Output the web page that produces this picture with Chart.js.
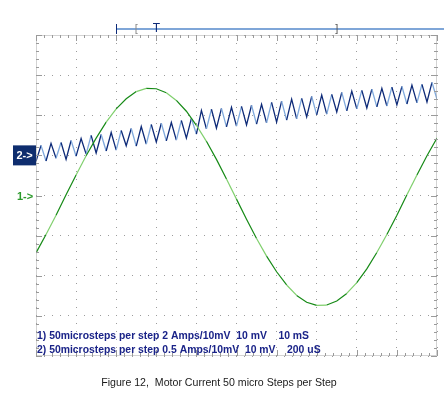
<!DOCTYPE html>
<html>
<head>
<meta charset="utf-8">
<script src="https://cdn.jsdelivr.net/npm/chart.js@4"></script>
<style>
  body { margin: 0; background: #fff; }
  #wrap { width: 444px; height: 396px; }
</style>
</head>
<body>
<div id="wrap"><canvas id="scope" width="444" height="396"></canvas></div>
<script>
// channel 1 (green), sampled every quarter division, values in divisions
const ch1Step = 0.25;
const ch1Values = [
  -1.43, -0.97, -0.49, 0.02, 0.51, 0.99, 1.43, 1.83, 2.16, 2.41,
  2.59, 2.67, 2.66, 2.56, 2.37, 2.10, 1.75, 1.35, 0.90, 0.41,
  -0.09, -0.59, -1.07, -1.51, -1.90, -2.23, -2.49, -2.66, -2.74, -2.73,
  -2.63, -2.44, -2.17, -1.83, -1.42, -0.97, -0.49, 0.02, 0.51, 0.99,
  1.43,
];

// channel 2 (blue), peaks and troughs every eighth of a division
const ch2Step = 0.125;
const ch2Values = [
  0.85, 1.25, 0.86, 1.30, 0.93, 1.32, 0.90, 1.37, 0.98, 1.42,
  1.03, 1.50, 1.06, 1.52, 1.11, 1.57, 1.13, 1.62, 1.24, 1.67,
  1.23, 1.72, 1.28, 1.77, 1.33, 1.80, 1.36, 1.82, 1.38, 1.87,
  1.43, 1.92, 1.53, 2.12, 1.66, 2.15, 1.68, 2.17, 1.71, 2.20,
  1.73, 2.22, 1.76, 2.25, 1.78, 2.27, 1.81, 2.32, 1.83, 2.35,
  1.88, 2.40, 1.91, 2.42, 1.96, 2.47, 2.01, 2.50, 2.03, 2.52,
  2.08, 2.57, 2.11, 2.60, 2.16, 2.62, 2.18, 2.65, 2.21, 2.67,
  2.23, 2.70, 2.26, 2.72, 2.28, 2.75, 2.31, 2.77, 2.33, 2.82,
  2.40,
];

// ground markers (divisions) and trigger marks (time, divisions)
const ch1Ground = 0;
const ch2Ground = 1;
const triggerStart = 2;
const triggerOpen = 2.5;
const triggerPoint = 3;
const triggerClose = 7.5;

const notes = [
  "1) 50microsteps per step 2 Amps/10mV  10 mV    10 mS",
  "2) 50microsteps per step 0.5 Amps/10mV  10 mV    200 uS",
];
const caption = "Figure 12,  Motor Current 50 micro Steps per Step";

const NAVY = "#0d2a78";
const LIGHT_BLUE = "#7ea8dc";
const GREEN = "#168a16";
const LIGHT_GREEN = "#7fcf6c";

const ch1Data = ch1Values.map((v, i) => ({ x: i * ch1Step, y: v }));
const ch2Data = ch2Values.map((v, i) => ({ x: i * ch2Step, y: v }));

function line(ctx, x1, y1, x2, y2) {
  ctx.beginPath();
  ctx.moveTo(x1, y1);
  ctx.lineTo(x2, y2);
  ctx.stroke();
}

const scopeDecor = {
  id: "scopeDecor",
  afterDraw(chart) {
    const { ctx, chartArea: a, scales: { x, y } } = chart;
    ctx.save();

    // dotted frame with inward ticks
    ctx.strokeStyle = "#a6a6a6";
    ctx.lineWidth = 1;
    ctx.setLineDash([1, 1]);
    ctx.strokeRect(a.left + 0.5, a.top + 0.5, a.width - 1, a.height - 1);
    ctx.setLineDash([]);
    ctx.strokeStyle = "#9a9a9a";
    for (let i = 0; i <= 50; i++) {
      const px = Math.round(x.getPixelForValue(i / 5)) + 0.5;
      const len = i % 5 === 0 ? 6 : 3;
      line(ctx, px, a.top, px, a.top + len);
      line(ctx, px, a.bottom, px, a.bottom - len);
    }
    for (let i = 0; i <= 40; i++) {
      const py = Math.round(y.getPixelForValue(-4 + i / 5)) + 0.5;
      const len = i % 5 === 0 ? 6 : 3;
      line(ctx, a.left, py, a.left + len, py);
      line(ctx, a.right, py, a.right - len, py);
    }

    // trigger bar above the graticule
    const ty = 29;
    ctx.strokeStyle = "#7fa6d8";
    ctx.lineWidth = 2;
    line(ctx, x.getPixelForValue(triggerStart), ty, chart.width, ty);
    ctx.lineWidth = 1;
    ctx.strokeStyle = NAVY;
    const sx = Math.round(x.getPixelForValue(triggerStart)) + 0.5;
    line(ctx, sx, ty - 5, sx, ty + 5);
    ctx.font = "11px 'Liberation Sans'";
    ctx.textAlign = "center";
    ctx.textBaseline = "middle";
    ctx.fillStyle = "#8a8a8a";
    ctx.fillText("[", x.getPixelForValue(triggerOpen), ty);
    ctx.fillStyle = "#555";
    ctx.fillText("]", x.getPixelForValue(triggerClose), ty);
    ctx.fillStyle = NAVY;
    ctx.font = "12px 'Liberation Sans'";
    ctx.fillText("T", x.getPixelForValue(triggerPoint), ty);

    // channel ground markers
    const g2 = y.getPixelForValue(ch2Ground);
    ctx.fillStyle = "#0e2d6e";
    ctx.fillRect(13, g2 - 10, 23, 20);
    ctx.fillStyle = "#fff";
    ctx.font = "bold 11px 'Liberation Sans'";
    ctx.fillText("2->", 24.5, g2 + 0.5);
    const g1 = y.getPixelForValue(ch1Ground);
    ctx.fillStyle = "#2b9a2b";
    ctx.fillText("1->", 25, g1 + 1);

    // channel notes
    ctx.textAlign = "left";
    ctx.fillStyle = "#1a2388";
    ctx.font = "bold 10.4px 'Liberation Sans'";
    ctx.fillText(notes[0], a.left + 1, 336);
    ctx.fillText(notes[1], a.left + 1, 350);

    // caption
    ctx.textAlign = "center";
    ctx.fillStyle = "#1a1a1a";
    ctx.font = "10.6px 'Liberation Sans'";
    ctx.fillText(caption, 219, 383);
    ctx.restore();
  },
};

new Chart(document.getElementById("scope"), {
  type: "line",
  data: {
    datasets: [
      {
        label: "Channel 1",
        data: ch1Data,
        borderColor: GREEN,
        borderWidth: 1.2,
        pointRadius: 0,
        tension: 0,
        segment: {
          borderColor: (c) => (c.p0DataIndex % 3 === 1 ? LIGHT_GREEN : GREEN),
        },
      },
      {
        label: "Channel 2",
        data: ch2Data,
        borderColor: NAVY,
        borderWidth: 1.3,
        pointRadius: 0,
        tension: 0,
        segment: {
          borderColor: (c) => (c.p0DataIndex % 3 === 1 ? LIGHT_BLUE : NAVY),
        },
      },
    ],
  },
  options: {
    responsive: false,
    animation: false,
    layout: {
      padding: { left: 36, top: 35, right: 7, bottom: 40 },
    },
    plugins: {
      legend: { display: false },
      tooltip: { enabled: false },
    },
    scales: {
      x: {
        type: "linear",
        min: 0,
        max: 10,
        ticks: { display: false, stepSize: 1 },
        grid: { color: "#9c9c9c", drawTicks: false },
        border: { display: false, dash: [1, 7] },
      },
      y: {
        min: -4,
        max: 4,
        ticks: { display: false, stepSize: 1 },
        grid: { color: "#9c9c9c", drawTicks: false },
        border: { display: false, dash: [1, 7] },
      },
    },
  },
  plugins: [scopeDecor],
});
</script>
</body>
</html>
